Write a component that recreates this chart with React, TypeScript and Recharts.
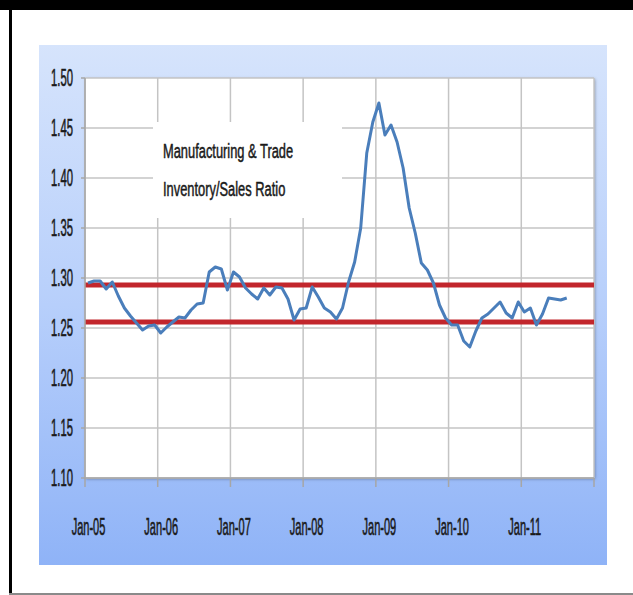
import { CartesianGrid, Line, LineChart, ReferenceLine, XAxis, YAxis } from "recharts";

// months since Jan-05, one tick per January
const yearTicks = [0, 12, 24, 36, 48, 60, 72, 84];
const yearLabels = ["Jan-05", "Jan-06", "Jan-07", "Jan-08", "Jan-09", "Jan-10", "Jan-11", ""];
const ratioTicks = [1.1, 1.15, 1.2, 1.25, 1.3, 1.35, 1.4, 1.45, 1.5];

// monthly inventory/sales ratio, Jan-05 .. Aug-11
const ratio = [
  1.295, 1.297, 1.297, 1.289, 1.296, 1.282, 1.27, 1.262, 1.255, 1.248, 1.252, 1.253,
  1.245, 1.251, 1.256, 1.261, 1.26, 1.268, 1.274, 1.275, 1.306, 1.311, 1.309, 1.288,
  1.306, 1.301, 1.29, 1.284, 1.279, 1.29, 1.283, 1.291, 1.29, 1.279, 1.258, 1.269,
  1.27, 1.291, 1.281, 1.27, 1.266, 1.259, 1.27, 1.296, 1.316, 1.35, 1.425, 1.456,
  1.475, 1.443, 1.453, 1.436, 1.41, 1.37, 1.345, 1.315, 1.308, 1.295, 1.273, 1.26,
  1.253, 1.253, 1.237, 1.231, 1.247, 1.26, 1.264, 1.27, 1.276, 1.265, 1.26, 1.276,
  1.266, 1.27, 1.253, 1.264, 1.28, 1.279, 1.278, 1.28,
];

const upperBand = 1.293;
const lowerBand = 1.256;
const titleLines = ["Manufacturing & Trade", "Inventory/Sales Ratio"];

const font = "'Liberation Sans', Arial, sans-serif";

const XTick = (props: any) => {
  const { x, y, payload } = props;
  const label = yearLabels[yearTicks.indexOf(payload.value)] ?? "";
  return (
    <text
      transform={`translate(${x + 3.5},${y + 48}) scale(0.48,1)`}
      textAnchor="middle"
      fontFamily={font}
      fontSize={23}
      fill="#1a1a1a"
      stroke="#1a1a1a"
      strokeWidth={0.6}
    >
      {label}
    </text>
  );
};

const YTick = (props: any) => {
  const { x, y, payload } = props;
  return (
    <text
      transform={`translate(${x - 8},${y + 8}) scale(0.49,1)`}
      textAnchor="end"
      fontFamily={font}
      fontSize={23}
      fill="#1a1a1a"
      stroke="#1a1a1a"
      strokeWidth={0.6}
    >
      {payload.value.toFixed(2)}
    </text>
  );
};

export default function App() {
  const data = ratio.map((v, i) => ({ month: i + 0.5, ratio: v }));

  return (
    <div
      style={{
        position: "fixed",
        left: 0,
        top: 0,
        width: 633,
        height: 595,
        background: "#fff",
        overflow: "hidden",
      }}
    >
      <div style={{ position: "absolute", left: 0, top: 0, width: 633, height: 10, background: "#000" }} />
      <div style={{ position: "absolute", left: 9, top: 10, width: 3, height: 585, background: "#000" }} />
      <div style={{ position: "absolute", left: 9, top: 593, width: 624, height: 2, background: "#8a8a8a" }} />

      <div
        style={{
          position: "absolute",
          left: 39,
          top: 45,
          width: 568,
          height: 520,
          background: "linear-gradient(to bottom, #d6e4fc 0%, #b7cffb 50%, #8fb3f7 100%)",
        }}
      />
      <div
        style={{
          position: "absolute",
          left: 85,
          top: 78,
          width: 509,
          height: 400,
          background: "#fff",
          boxShadow: "1px 1px 3px rgba(0,0,0,0.35)",
        }}
      />

      <div style={{ position: "absolute", left: 39, top: 45 }}>
        <LineChart width={568} height={520} data={data} margin={{ top: 33, right: 13, left: 0, bottom: 27 }}>
          <CartesianGrid stroke="#c4c4c4" strokeWidth={1.5} />
          <XAxis
            type="number"
            dataKey="month"
            domain={[0, 84]}
            ticks={yearTicks}
            height={60}
            tickSize={9}
            tickMargin={0}
            stroke="#a6a6a6"
            strokeWidth={1.5}
            tick={<XTick />}
            interval={0}
          />
          <YAxis
            type="number"
            domain={[1.1, 1.5]}
            ticks={ratioTicks}
            width={46}
            tickSize={4}
            tickMargin={0}
            stroke="#a6a6a6"
            strokeWidth={1.5}
            tick={<YTick />}
            interval={0}
          />
          <ReferenceLine y={upperBand} stroke="#c2262c" strokeWidth={5} />
          <ReferenceLine y={lowerBand} stroke="#c2262c" strokeWidth={5} />
          <Line
            type="linear"
            dataKey="ratio"
            stroke="#4a7ebb"
            strokeWidth={3}
            strokeLinejoin="round"
            dot={false}
            isAnimationActive={false}
          />
        </LineChart>
      </div>

      <svg style={{ position: "absolute", left: 153, top: 122 }} width={189} height={96}>
        <rect x={0} y={0} width={189} height={96} fill="#fff" />
        {titleLines.map((t, i) => (
          <text
            key={t}
            transform={`translate(10,${36 + i * 38}) scale(0.66,1)`}
            fontFamily={font}
            fontSize={19.5}
            fill="#1a1a1a"
            stroke="#1a1a1a"
            strokeWidth={0.5}
          >
            {t}
          </text>
        ))}
      </svg>
    </div>
  );
}
